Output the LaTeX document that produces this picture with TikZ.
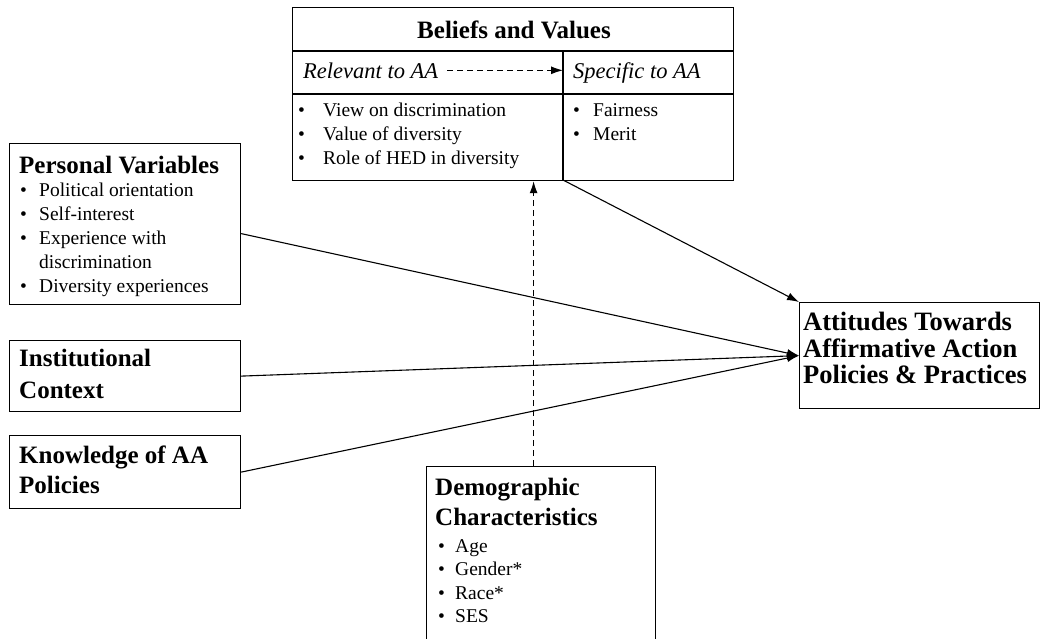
\documentclass[tikz,border=0pt]{standalone}
\usepackage{fontspec}
\setmainfont{Liberation Serif}
\usetikzlibrary{arrows.meta}
\newcommand{\bul}[1]{\makebox[#1][l]{\textbullet}}

\begin{document}
\begin{tikzpicture}[x = 1pt, y = -1pt]
	\tikzstyle{frameStyle} = [draw, line width = 1.2pt, inner sep = 0pt]
	\tikzstyle{titleStyle} = [inner sep = 0pt, align = left, font = \fontsize{25}{28}\selectfont\bfseries]
	\tikzstyle{listStyle} = [inner sep = 0pt, align = left, anchor = north west]
	\tikzstyle{linkStyle} = [line width = 1.1pt, -{Latex[length = 12pt, width = 8pt]}]
	\tikzstyle{dashStyle} = [linkStyle, dash pattern = on 6pt off 4pt]
	\useasboundingbox (0, 0) rectangle (1049, 638);
	% frames
	\node[frameStyle, anchor = north west, minimum width = 231pt, minimum height = 161pt] (pv) at (9, 143) {};
	\node[frameStyle, anchor = north west, minimum width = 231pt, minimum height = 71pt] (ic) at (9, 340) {};
	\node[frameStyle, anchor = north west, minimum width = 231pt, minimum height = 73pt] (ka) at (9, 435) {};
	\node[frameStyle, anchor = north west, minimum width = 441pt, minimum height = 173pt] (bv) at (292, 7) {};
	\node[frameStyle, anchor = north west, minimum width = 229pt, minimum height = 200pt] (dc) at (426, 466) {};
	\node[frameStyle, anchor = north west, minimum width = 240pt, minimum height = 106pt] (att) at (799, 302) {};
	% beliefs and values cells
	\coordinate (divtop) at (563, 51);
	\coordinate (rowtop) at (563, 94);
	\coordinate (divbot) at (563, 180);
	\draw[line width = 1.2pt] (bv.west |- divtop) -- (bv.east |- divtop);
	\draw[line width = 1.2pt] (bv.west |- rowtop) -- (bv.east |- rowtop);
	\draw[line width = 1.2pt] (divtop) -- (divbot);
	\node[titleStyle, anchor = base] (bvt) at (514, 38) {Beliefs and Values};
	\node[inner sep = 0pt, anchor = base west, font = \fontsize{22.5}{25}\selectfont\itshape] (rel) at (303, 78) {Relevant to AA};
	\node[inner sep = 0pt, anchor = base west, font = \fontsize{22.5}{25}\selectfont\itshape] (spec) at (573, 78) {Specific to AA};
	\node[listStyle, font = \fontsize{19.5}{24}\selectfont] (bvl) at (298, 103)
		{\bul{25pt}View on discrimination\\ \bul{25pt}Value of diversity\\ \bul{25pt}Role of HED in diversity};
	\node[listStyle, font = \fontsize{19.5}{24}\selectfont] (bvr) at (573, 103)
		{\bul{20pt}Fairness\\ \bul{20pt}Merit};
	% box texts
	\node[titleStyle, anchor = north west] (pvt) at (19, 156) {Personal Variables};
	\node[listStyle, font = \fontsize{19.5}{24}\selectfont] (pvl) at (20, 183)
		{\bul{19pt}Political orientation\\ \bul{19pt}Self-interest\\ \bul{19pt}Experience with\\ \hspace*{19pt}discrimination\\ \bul{19pt}Diversity experiences};
	\node[titleStyle, anchor = north west, font = \fontsize{25}{32}\selectfont\bfseries] (ict) at (19, 349) {Institutional\\Context};
	\node[titleStyle, anchor = north west, font = \fontsize{25}{30}\selectfont\bfseries] (kat) at (19, 446) {Knowledge of AA\\Policies};
	\node[titleStyle, anchor = north west, font = \fontsize{25}{30}\selectfont\bfseries] (dct) at (435, 478) {Demographic\\Characteristics};
	\node[listStyle, font = \fontsize{19.5}{23.5}\selectfont] (dcl) at (438, 539)
		{\bul{17pt}Age\\ \bul{17pt}Gender*\\ \bul{17pt}Race*\\ \bul{17pt}SES};
	\node[titleStyle, anchor = north west, font = \fontsize{26.5}{26.5}\selectfont\bfseries] (attt) at (803, 312)
		{Attitudes Towards\\Affirmative Action\\Policies \& Practices};
	% links
	\draw[dashStyle] ([xshift = 9pt]rel.east) -- (rel.east -| divtop);
	\draw[dashStyle] ([xshift = -7.5pt]dc.north) -- ([xshift = -7.5pt]dc.north |- bv.south);
	\draw[linkStyle] (divbot) -- (att.north west);
	\draw[linkStyle] ([yshift = -9.5pt]pv.east) -- (att.west);
	\draw[linkStyle] (ic.east) -- (att.west);
	\draw[linkStyle] (ka.east) -- (att.west);
\end{tikzpicture}
\end{document}
